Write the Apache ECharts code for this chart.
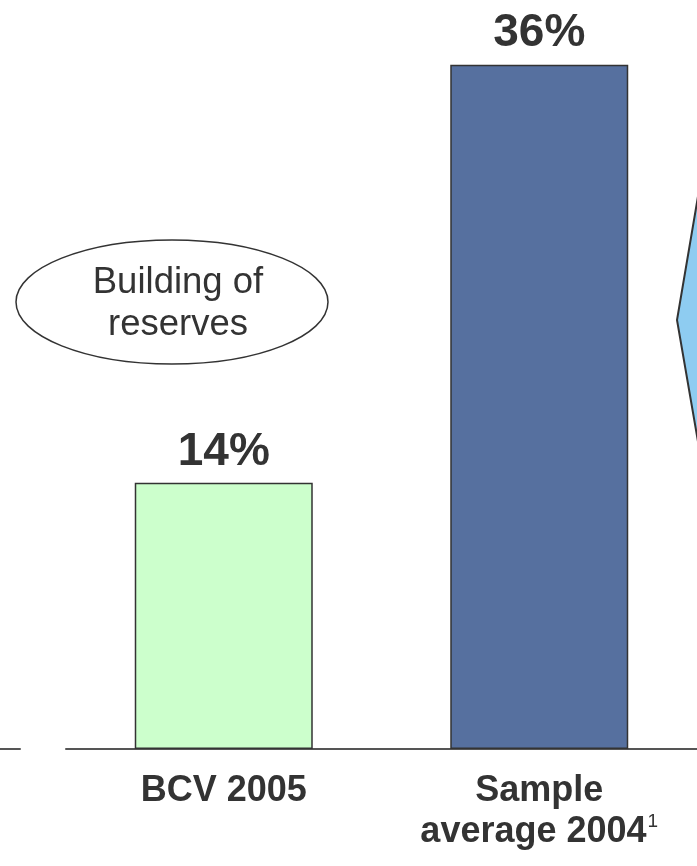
<!DOCTYPE html>
<html>
<head>
<meta charset="utf-8">
<script src="https://cdn.jsdelivr.net/npm/echarts@6/dist/echarts.min.js"></script>
<style>
  html, body { margin: 0; padding: 0; background: #fff; }
  #chart { width: 697px; height: 866px; }
</style>
</head>
<body>
<div id="chart"></div>
<script>
// Reserve ratio by group
const categories = ['BCV 2005', 'Sample\naverage 2004'];
const footnotes = ['', '1'];
const values = [14, 36];
const barColors = ['#CCFFCC', '#56709F'];
const calloutText = 'Building of\nreserves';

const FONT = '"Liberation Sans", Arial, Helvetica, sans-serif';
const chart = echarts.init(document.getElementById('chart'));

function labelFor(value, idx) {
  const lines = value.split('\n');
  const note = footnotes[idx] ? '{s|' + footnotes[idx] + '}' : '';
  return lines.map((l, i) => '{a|' + l + '}' + (i === lines.length - 1 ? note : '')).join('\n');
}

chart.setOption({
  animation: false,
  grid: [
    { left: 66, width: 633, top: 0, bottom: 117 },
    { left: 0, width: 20, top: 0, bottom: 117 }
  ],
  xAxis: [
    {
      type: 'category',
      gridIndex: 0,
      data: categories,
      axisTick: { show: false },
      axisLine: { lineStyle: { color: '#555', width: 2 } },
      axisLabel: {
        margin: 22,
        interval: 0,
        formatter: labelFor,
        rich: {
          a: { fontFamily: FONT, fontSize: 36, fontWeight: 'bold', color: '#333', lineHeight: 41 },
          s: { fontFamily: FONT, fontSize: 19, color: '#333', verticalAlign: 'top', lineHeight: 41, padding: [0, 0, 14, 1] }
        }
      }
    },
    {
      type: 'category',
      gridIndex: 1,
      data: [''],
      axisTick: { show: false },
      axisLabel: { show: false },
      axisLine: { lineStyle: { color: '#555', width: 2 } }
    }
  ],
  yAxis: [
    { type: 'value', gridIndex: 0, min: 0, max: 39.4, show: false },
    { type: 'value', gridIndex: 1, min: 0, max: 39.4, show: false }
  ],
  series: [{
    type: 'bar',
    xAxisIndex: 0,
    yAxisIndex: 0,
    barWidth: 178,
    data: values.map((v, i) => ({
      value: v,
      itemStyle: { color: barColors[i], borderColor: '#333', borderWidth: 1.5 }
    })),
    label: {
      show: true,
      position: 'top',
      distance: 8,
      formatter: '{c}%',
      fontFamily: FONT,
      fontSize: 46,
      fontWeight: 'bold',
      color: '#333'
    }
  }],
  graphic: [
    {
      type: 'polygon',
      shape: { points: [[720, 67], [677, 320], [720, 569], [760, 569], [760, 67]] },
      style: { fill: '#8ECCF1', stroke: '#333', lineWidth: 2 }
    },
    {
      type: 'ellipse',
      shape: { cx: 172, cy: 302, rx: 156, ry: 62 },
      style: { fill: '#fff', stroke: '#333', lineWidth: 1.5 }
    },
    {
      type: 'text',
      x: 178,
      y: 304,
      style: {
        text: calloutText,
        fontFamily: FONT,
        fontSize: 36.5,
        lineHeight: 42,
        fill: '#333',
        align: 'center',
        verticalAlign: 'middle'
      }
    }
  ]
});
</script>
</body>
</html>
